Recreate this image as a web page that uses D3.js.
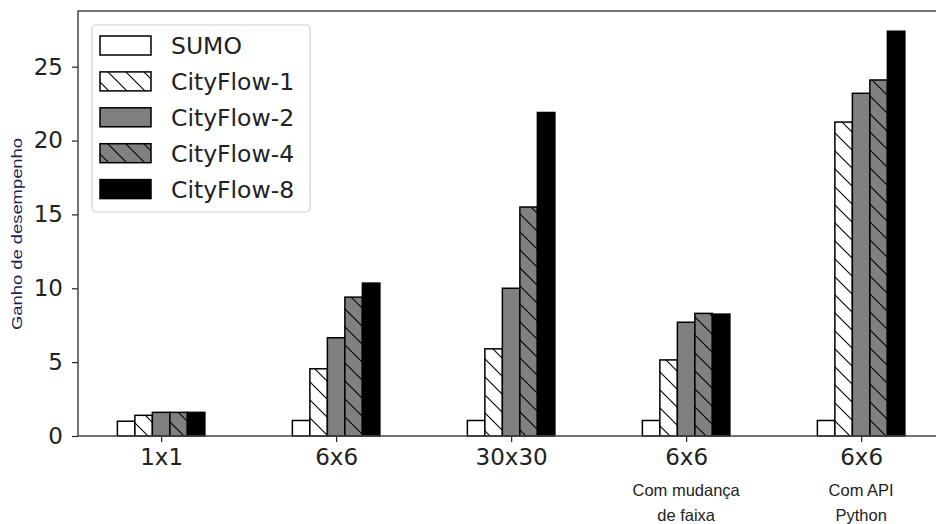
<!DOCTYPE html>
<html>
<head>
<meta charset="utf-8">
<script src="https://cdn.jsdelivr.net/npm/d3@7"></script>
<style>
  html, body { margin: 0; padding: 0; background: #fff; }
  svg { display: block; }
</style>
</head>
<body>
<div id="chart"></div>
<script>
// chart data
const categories = ['1x1', '6x6', '30x30', '6x6', '6x6'];
const subLabels = [[], [], [], ['Com mudança', 'de faixa'], ['Com API', 'Python']];
const seriesNames = ['SUMO', 'CityFlow-1', 'CityFlow-2', 'CityFlow-4', 'CityFlow-8'];
const sumo = [1.0, 1.05, 1.05, 1.05, 1.05];
const cityflow1 = [1.4, 4.55, 5.9, 5.15, 21.25];
const cityflow2 = [1.6, 6.65, 10.0, 7.7, 23.2];
const cityflow4 = [1.6, 9.4, 15.5, 8.3, 24.1];
const cityflow8 = [1.6, 10.35, 21.9, 8.25, 27.4];
const yTicks = [0, 5, 10, 15, 20, 25];

const seriesValues = [sumo, cityflow1, cityflow2, cityflow4, cityflow8];
const seriesStyle = [
  { fill: '#ffffff', hatch: false },
  { fill: '#ffffff', hatch: true },
  { fill: '#808080', hatch: false },
  { fill: '#808080', hatch: true },
  { fill: '#000000', hatch: false }
];

const W = 936, H = 524;
const plotLeft = 78, plotTop = 11, plotBottom = 436;
const barW = 0.1;

const svg = d3.select('#chart').append('svg')
  .attr('width', W)
  .attr('height', H);

// hatch patterns "\\"
const defs = svg.append('defs');
seriesStyle.forEach((s, i) => {
  if (!s.hatch) return;
  const p = defs.append('pattern')
    .attr('id', 'hatch' + i)
    .attr('patternUnits', 'userSpaceOnUse')
    .attr('width', 18)
    .attr('height', 18);
  p.append('rect').attr('width', 18).attr('height', 18).attr('fill', s.fill);
  p.append('path')
    .attr('d', 'M0,0L18,18M-2,16L2,20M16,-2L20,2')
    .attr('stroke', '#000')
    .attr('stroke-width', 1.1);
});
const fillOf = i => seriesStyle[i].hatch ? `url(#hatch${i})` : seriesStyle[i].fill;

const x = d3.scaleLinear()
  .domain([-0.475, categories.length - 1 + 0.475])
  .range([plotLeft, plotLeft + 4.95 * 175]);
const y = d3.scaleLinear()
  .domain([0, 28.77])
  .range([plotBottom, plotTop]);

// bars
const g = svg.append('g');
seriesValues.forEach((vals, s) => {
  const off = (s - 2) * barW;
  g.selectAll(null)
    .data(vals)
    .enter().append('rect')
    .attr('x', (d, i) => x(i + off - barW / 2))
    .attr('width', x(barW) - x(0))
    .attr('y', d => y(d))
    .attr('height', d => y(0) - y(d))
    .attr('fill', fillOf(s))
    .attr('stroke', '#000')
    .attr('stroke-width', 1.5);
});

// axes
const yAxis = svg.append('g')
  .attr('transform', `translate(${plotLeft},0)`)
  .call(d3.axisLeft(y).tickValues(yTicks).tickSize(6).tickPadding(9).tickFormat(d3.format('d')));
const xAxis = svg.append('g')
  .attr('transform', `translate(0,${plotBottom})`)
  .call(d3.axisBottom(x).tickValues(d3.range(categories.length)).tickSize(6).tickPadding(6)
    .tickFormat(i => categories[i]));

[xAxis, yAxis].forEach(a => {
  a.select('.domain').remove();
  a.selectAll('line').attr('stroke', '#222').attr('stroke-width', 1.2);
  a.selectAll('text')
    .attr('fill', '#222')
    .style('font-family', 'DejaVu Sans')
    .style('font-size', '23px');
});
xAxis.selectAll('text').attr('dy', '0.74em');

// spines
svg.append('rect')
  .attr('x', plotLeft)
  .attr('y', plotTop)
  .attr('width', x.range()[1] - plotLeft)
  .attr('height', plotBottom - plotTop)
  .attr('fill', 'none')
  .attr('stroke', '#444')
  .attr('stroke-width', 1.5);

// extra category notes
subLabels.forEach((lines, i) => {
  lines.forEach((t, k) => {
    svg.append('text')
      .attr('x', x(i))
      .attr('y', 496 + k * 25)
      .attr('text-anchor', 'middle')
      .attr('fill', '#222')
      .style('font-family', 'Liberation Sans, Arial, sans-serif')
      .style('font-size', '16.5px')
      .text(t);
  });
});

// y label
svg.append('text')
  .attr('transform', 'translate(22,234) rotate(-90)')
  .attr('text-anchor', 'middle')
  .attr('fill', '#1e1e55')
  .attr('textLength', 192)
  .attr('lengthAdjust', 'spacingAndGlyphs')
  .style('font-family', 'Liberation Sans, Arial, sans-serif')
  .style('font-size', '15px')
  .text('Ganho de desempenho');

// legend
const legend = svg.append('g');
legend.append('rect')
  .attr('x', 92).attr('y', 25)
  .attr('width', 218).attr('height', 187)
  .attr('rx', 4)
  .attr('fill', '#fff')
  .attr('fill-opacity', 0.85)
  .attr('stroke', '#d0d0d0')
  .attr('stroke-width', 1.2);
seriesNames.forEach((name, s) => {
  const cy = 45.5 + s * 35.9;
  legend.append('rect')
    .attr('x', 100).attr('y', cy - 9.5)
    .attr('width', 51).attr('height', 19)
    .attr('fill', fillOf(s))
    .attr('stroke', '#000')
    .attr('stroke-width', 1.5);
  legend.append('text')
    .attr('x', 171).attr('y', cy + 8.5)
    .attr('fill', '#222')
    .style('font-family', 'DejaVu Sans')
    .style('font-size', '23.5px')
    .text(name);
});
</script>
</body>
</html>
